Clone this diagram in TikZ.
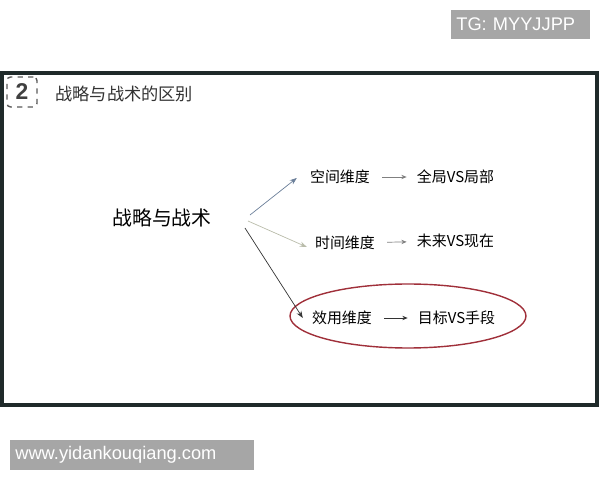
\documentclass[tikz,border=0pt]{standalone}
\usepackage{fontspec}
\setmainfont{Liberation Sans}
\newfontfamily\cjk{Noto Sans CJK SC}
\usetikzlibrary{arrows.meta,shapes.geometric}

\definecolor{frameclr}{HTML}{1F2A2A}
\definecolor{tagclr}{HTML}{A6A6A6}
\definecolor{ringclr}{HTML}{A0303A}
\definecolor{spaceclr}{HTML}{6B7F99}
\definecolor{timeclr}{HTML}{B9BCAA}

\tikzset{
	dim/.style={inner sep=0pt, font=\cjk\fontsize{8.5}{10}\selectfont},
	pair/.style={inner sep=0pt, font=\cjk\fontsize{8.5}{10}\selectfont},
	tag/.style={fill=tagclr, text=white, inner xsep=1mm, inner ysep=0pt, align=left, font=\fontsize{10.4}{12}\selectfont},
	sarrow/.style={gray, thin, -{Stealth[length=3pt,width=2.5pt]}, shorten <=2.4mm, shorten >=2mm},
	barrow/.style={thin, -{Stealth[length=4pt,width=3pt]}}
}

\begin{document}
\begin{tikzpicture}[x=0.02cm, y=-0.02cm]
		\useasboundingbox (0,0) rectangle (600,480);

		% watermarks
		\node[tag, text width=2.58cm, minimum height=0.58cm, anchor=west] (tg) at (451,24.5) {TG: MYYJJPP};
		\node[tag, text width=4.68cm, minimum height=0.6cm, anchor=west] (web) at (10,455) {www.yidankouqiang.com};

		% slide
		\draw[frameclr, line width=1.9pt] (2,73) rectangle (597,405);
		\node[draw=black!65, dashed, rounded corners=2pt, line width=0.8pt, minimum size=0.6cm, inner sep=0pt, text=black!75, font=\bfseries\fontsize{13}{14}\selectfont] (num) at (22,92) {2};
		\node[anchor=west, inner sep=0pt, text=black!80, font=\cjk\fontsize{9.8}{12}\selectfont] (title) at (55,94) {战略与战术的区别};

		\node[inner sep=0pt, font=\cjk\fontsize{11.3}{13}\selectfont] (main) at (162,218) {战略与战术};

		\node[dim] (space) at (340,177) {空间维度};
		\node[pair] (spacepair) at (455.5,177) {全局VS局部};
		\node[dim] (time) at (345,243) {时间维度};
		\node[pair] (timepair) at (455.5,241) {未来VS现在};
		\node[dim] (use) at (342,318) {效用维度};
		\node[pair] (usepair) at (456.5,318) {目标VS手段};

		\node[ellipse, draw=ringclr, line width=0.8pt, minimum width=4.72cm, minimum height=1.28cm] (ring) at (408,316) {};

		\draw[barrow, spaceclr] ([shift={(38,-3)}]main.east) -- ([shift={(-13,1)}]space.west);
		\draw[barrow, timeclr] ([shift={(36,3)}]main.east) -- ([shift={(-8,4)}]time.west);
		\draw[barrow, black!80] ([shift={(33,10)}]main.east) -- ([shift={(-9,0)}]use.west);

		\draw[sarrow] (space) -- (spacepair);
		\draw[sarrow] (time) -- (timepair);
		\draw[sarrow, black!80] (use) -- (usepair);

	\end{tikzpicture}
\end{document}
